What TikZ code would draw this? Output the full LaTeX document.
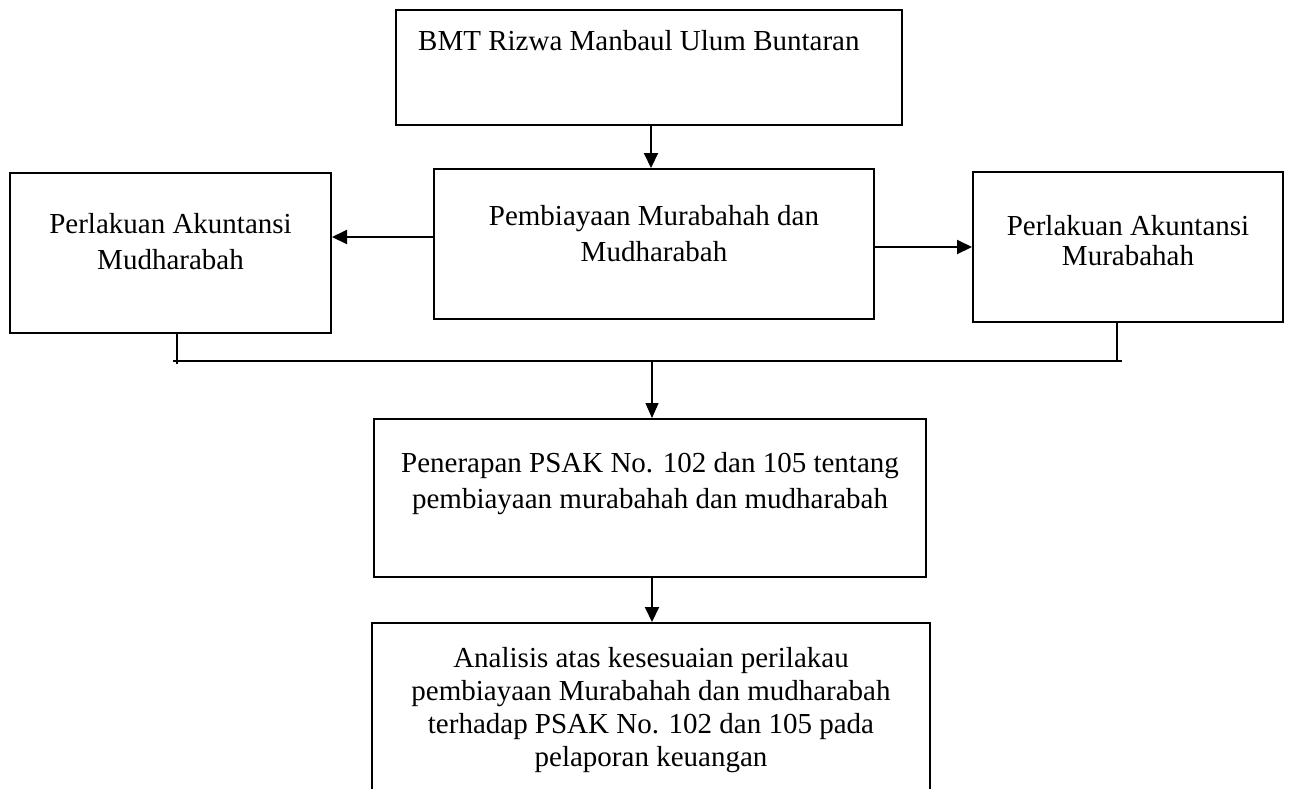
\documentclass[tikz,border=0pt]{standalone}
\usepackage{fontspec}
\setmainfont{Liberation Serif}
\usetikzlibrary{arrows.meta}

\begin{document}
\begin{tikzpicture}[x=1pt,y=-1pt,
    box/.style={draw,line width=2pt,inner sep=0pt},
    txt/.style={anchor=north,align=center,inner sep=0pt,font={\fontsize{29pt}{36pt}\selectfont}},
    arr/.style={line width=2pt,-{Triangle[length=15pt,width=14pt]}},
    thinln/.style={line width=1.2pt}]
    \fill[white] (0,0) rectangle (1290,788);
    \useasboundingbox (0,0) rectangle (1290,788);
    \node[box,minimum width=506pt,minimum height=115pt] (bmt) at (649,67.5) {};
    \node[box,minimum width=440pt,minimum height=150pt] (mid) at (654,244) {};
    \node[box,minimum width=321pt,minimum height=160pt] (mudh) at (170.5,253) {};
    \node[box,minimum width=310pt,minimum height=150pt] (mura) at (1128,247) {};
    \node[box,minimum width=552pt,minimum height=158pt] (psak) at (650,498) {};
    \node[box,minimum width=558pt,minimum height=169pt] (anl) at (651,707.5) {};
    \node[anchor=base west,inner sep=0pt,font={\fontsize{29pt}{36pt}\selectfont}] (bmttxt) at (418,50) {BMT Rizwa Manbaul Ulum Buntaran};
    \node[txt] (midtxt) at (654,205) {Pembiayaan Murabahah dan\\Mudharabah};
    \node[txt] (mudhtxt) at (170.5,213) {Perlakuan Akuntansi\\Mudharabah};
    \node[txt,font={\fontsize{29pt}{30pt}\selectfont}] (muratxt) at (1128,215) {Perlakuan Akuntansi\\Murabahah};
    \node[txt] (psaktxt) at (650,452) {Penerapan PSAK No. 102 dan 105 tentang\\pembiayaan murabahah dan mudharabah};
    \node[txt,font={\fontsize{29pt}{33pt}\selectfont}] (anltxt) at (651,647) {Analisis atas kesesuaian perilakau\\pembiayaan Murabahah dan mudharabah\\terhadap PSAK No. 102 dan 105 pada\\pelaporan keuangan};
    \draw[arr] ([xshift=2pt]bmt.south) -- ([xshift=2pt]bmt.south |- mid.north);
    \draw[arr] ([yshift=7pt]mid.west) -- ([yshift=7pt]mid.west -| mudh.east);
    \draw[arr] ([yshift=-3pt]mid.east) -- ([yshift=-3pt]mid.east -| mura.west);
    \coordinate (jl) at (173,361);
    \coordinate (jr) at (1122,361);
    \coordinate (jc) at (652,361);
    \draw[thinln] (jl) -- (jr);
    \draw[thinln] ([xshift=6.5pt]mudh.south) -- ++(0,30);
    \draw[thinln] ([xshift=-11pt]mura.south) -- ([xshift=-11pt]mura.south |- jr);
    \draw[thinln,-{Triangle[length=15pt,width=13pt]}] (jc) -- (jc |- psak.north);
    \draw[arr] ([xshift=2pt]psak.south) -- ([xshift=2pt]psak.south |- anl.north);
\end{tikzpicture}
\end{document}
